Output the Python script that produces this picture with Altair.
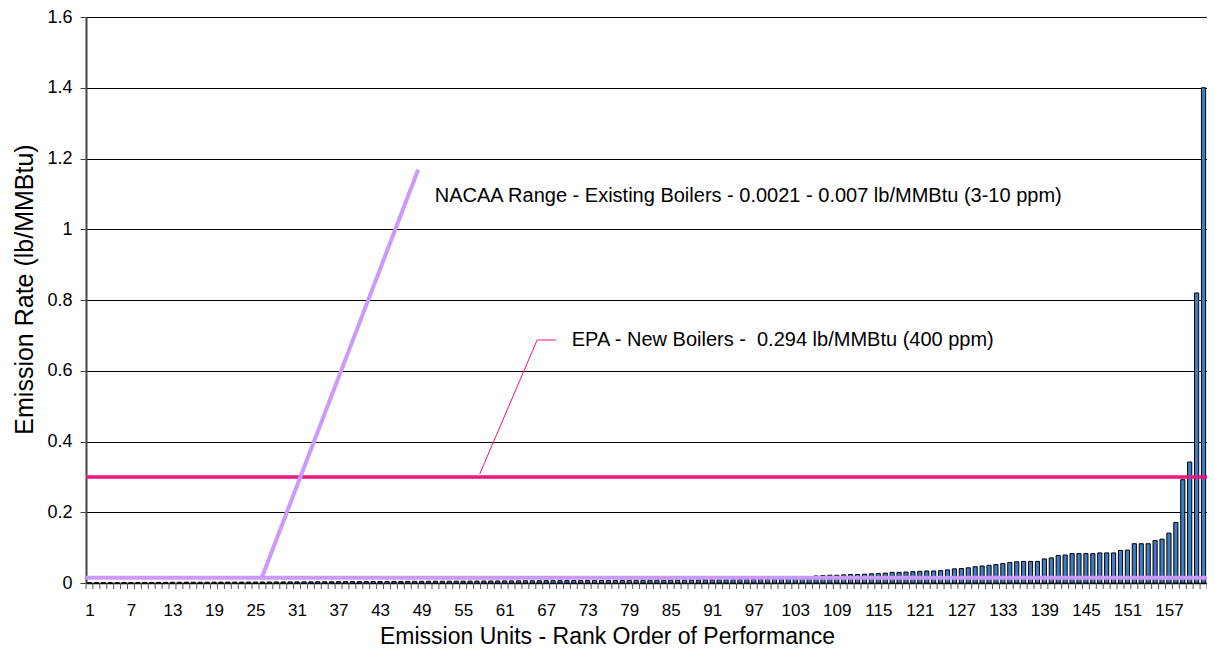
import altair as alt
import pandas as pd

# ---- data ----
ranks = list(range(1, 163))
rates = [
    0.0005, 0.0006, 0.0008, 0.0009, 0.001, 0.0011, 0.0012, 0.0015, 0.0016, 0.0017,
    0.0018, 0.0019, 0.002, 0.002, 0.0021, 0.0021, 0.0021, 0.0022, 0.0023, 0.0024,
    0.0025, 0.0025, 0.0026, 0.0027, 0.0028, 0.0028, 0.0029, 0.003, 0.003, 0.0031,
    0.0032, 0.0033, 0.0034, 0.0035, 0.0035, 0.0036, 0.0037, 0.0038, 0.0039, 0.004,
    0.004, 0.0041, 0.0042, 0.0043, 0.0044, 0.0045, 0.0046, 0.0047, 0.0048, 0.0049,
    0.005, 0.005, 0.0051, 0.0052, 0.0053, 0.0054, 0.0055, 0.0056, 0.0057, 0.0058,
    0.006, 0.006, 0.0061, 0.0062, 0.0063, 0.0064, 0.0065, 0.0066, 0.0067, 0.0068,
    0.007, 0.007, 0.007, 0.0071, 0.0072, 0.0073, 0.0074, 0.0075, 0.0076, 0.0077,
    0.0078, 0.008, 0.008, 0.008, 0.0081, 0.0082, 0.0084, 0.0085, 0.0086, 0.0088,
    0.009, 0.009, 0.0092, 0.0094, 0.0096, 0.0098, 0.01, 0.01, 0.0102, 0.0105,
    0.011, 0.012, 0.013, 0.014, 0.018, 0.02, 0.021, 0.022, 0.022, 0.023,
    0.024, 0.024, 0.025, 0.026, 0.027, 0.028, 0.03, 0.03, 0.031, 0.032,
    0.033, 0.034, 0.034, 0.035, 0.037, 0.04, 0.041, 0.043, 0.046, 0.048, 0.05, 0.052,
    0.055, 0.058, 0.06, 0.061, 0.061, 0.061, 0.068, 0.071, 0.078, 0.079,
    0.083, 0.083, 0.083, 0.083, 0.085, 0.085, 0.085, 0.092, 0.093, 0.111,
    0.111, 0.111, 0.12, 0.124, 0.141, 0.171, 0.292, 0.342, 0.82, 1.40,
]
x_labels = list(range(1, 158, 6))
y_ticks = [0, 0.2, 0.4, 0.6, 0.8, 1.0, 1.2, 1.4, 1.6]

epa_level = [0.3]
nacaa_level = [0.015]

# annotation leader lines (rank position, rate)
nacaa_leader_x = [25.9, 48.5]
nacaa_leader_y = [0.015, 1.168]
epa_leader_x = [57.4, 65.7, 68.4]
epa_leader_y = [0.308, 0.687, 0.687]

nacaa_text = "NACAA Range - Existing Boilers - 0.0021 - 0.007 lb/MMBtu (3-10 ppm)"
nacaa_text_pos = [50.9, 1.093]
epa_text = "EPA - New Boilers - \u00a00.294 lb/MMBtu (400 ppm)"
epa_text_pos = [70.7, 0.687]

FONT = "Liberation Sans"

bars_df = pd.DataFrame({"rank": ranks, "rate": rates})
bounds_df = pd.DataFrame({"b": [0.5] + [r + 0.5 for r in ranks]})

x_scale = alt.Scale(domain=[0.5, 162.5], nice=False, zero=False)
y_scale = alt.Scale(domain=[0, 1.6], nice=False)

PLOT_W = 1121
PLOT_H = 566

bars = (
    alt.Chart(bars_df)
    .transform_calculate(x0="datum.rank - 0.3", x1="datum.rank + 0.3", base="0")
    .mark_bar(color="#3F7CC4", stroke="black", strokeWidth=1)
    .encode(
        x=alt.X(
            "x0:Q",
            scale=x_scale,
            axis=alt.Axis(
                values=x_labels,
                title="Emission Units - Rank Order of Performance",
                ticks=False,
                tickSize=0,
                grid=False,
                labelPadding=19,
                labelFontSize=17,
                titleFontSize=23,
                titlePadding=7,
                titleX=521,
                titleAlign="center",
                domainColor="black",
                domainWidth=1.5,
                labelColor="black",
                titleColor="black",
                labelFont=FONT,
                titleFont=FONT,
                titleFontWeight="normal",
                labelFlush=False,
            ),
        ),
        x2="x1:Q",
        y=alt.Y(
            "rate:Q",
            scale=y_scale,
            axis=alt.Axis(
                values=y_ticks,
                format="~g",
                title="Emission Rate (lb/MMBtu)",
                grid=True,
                gridColor="black",
                gridWidth=1,
                tickSize=6,
                tickColor="#444",
                labelPadding=8,
                labelFontSize=18,
                titleFontSize=25,
                titlePadding=9,
                titleY=272,
                domainColor="#444",
                domainWidth=2,
                labelColor="black",
                titleColor="black",
                labelFont=FONT,
                titleFont=FONT,
                titleFontWeight="normal",
                labelFlush=False,
            ),
        ),
        y2="base:Q",
    )
)

xticks = (
    alt.Chart(bounds_df)
    .mark_rule(color="#555", strokeWidth=1)
    .encode(x=alt.X("b:Q", scale=x_scale), y=alt.value(PLOT_H), y2=alt.value(PLOT_H + 6))
)

nacaa_line = (
    alt.Chart(pd.DataFrame({"v": nacaa_level}))
    .mark_rule(color="#CC99FF", strokeWidth=4)
    .encode(y=alt.Y("v:Q", scale=y_scale))
)

epa_line = (
    alt.Chart(pd.DataFrame({"v": epa_level}))
    .mark_rule(color="#F0157F", strokeWidth=3.5)
    .encode(y=alt.Y("v:Q", scale=y_scale))
)

nacaa_leader = (
    alt.Chart(pd.DataFrame({"x": nacaa_leader_x, "y": nacaa_leader_y, "o": [0, 1]}))
    .mark_line(color="#CC99FF", strokeWidth=4)
    .encode(x=alt.X("x:Q", scale=x_scale), y=alt.Y("y:Q", scale=y_scale), order="o:Q")
)

epa_leader = (
    alt.Chart(pd.DataFrame({"x": epa_leader_x, "y": epa_leader_y, "o": [0, 1, 2]}))
    .mark_line(color="#F0157F", strokeWidth=1)
    .encode(x=alt.X("x:Q", scale=x_scale), y=alt.Y("y:Q", scale=y_scale), order="o:Q")
)

texts_df = pd.DataFrame(
    {
        "x": [nacaa_text_pos[0], epa_text_pos[0]],
        "y": [nacaa_text_pos[1], epa_text_pos[1]],
        "t": [nacaa_text, epa_text],
    }
)
texts = (
    alt.Chart(texts_df)
    .mark_text(align="left", baseline="middle", fontSize=20, font=FONT, color="black")
    .encode(x=alt.X("x:Q", scale=x_scale), y=alt.Y("y:Q", scale=y_scale), text="t:N")
)

chart = (
    alt.layer(bars, xticks, nacaa_line, epa_line, nacaa_leader, epa_leader, texts)
    .properties(
        width=PLOT_W,
        height=PLOT_H,
        autosize=alt.AutoSizeParams(type="none"),
        padding={"left": 78, "top": 9, "right": 0, "bottom": 64},
    )
    .configure_view(stroke="#888", strokeWidth=1.5)
    .configure(background="white")
)

chart.save("out.html", embed_options={"renderer": "svg", "actions": False})
